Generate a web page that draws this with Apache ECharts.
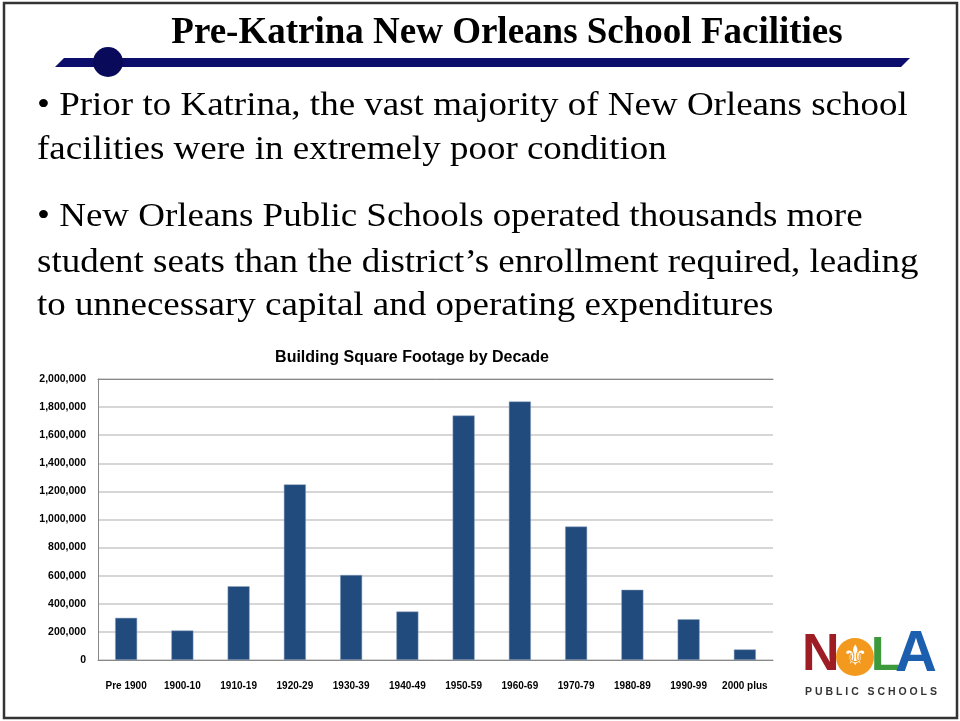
<!DOCTYPE html>
<html>
<head>
<meta charset="utf-8">
<script src="https://cdn.jsdelivr.net/npm/echarts@6/dist/echarts.min.js"></script>
<style>
  html, body { margin: 0; padding: 0; background: #fff; }
  #chart { width: 960px; height: 721px; }
</style>
</head>
<body>
<div id="chart"></div>
<script>
// 数据：按年代统计的校舍面积（平方英尺）
const decades = ['Pre 1900', '1900-10', '1910-19', '1920-29', '1930-39', '1940-49',
  '1950-59', '1960-69', '1970-79', '1980-89', '1990-99', '2000 plus'];
const squareFootage = [300000, 210000, 525000, 1250000, 605000, 345000,
  1740000, 1840000, 950000, 500000, 290000, 75000];
const yTicks = { min: 0, max: 2000000, interval: 200000 };

const slideTitle = 'Pre-Katrina New Orleans School Facilities';
const bulletLines = [
  ['• Prior to Katrina, the vast majority of New Orleans school', 106],
  ['facilities were in extremely poor condition', 150.5],
  ['• New Orleans Public Schools operated thousands more', 217.5],
  ['student seats than the district\u2019s enrollment required, leading', 263],
  ['to unnecessary capital and operating expenditures', 306],
];

const SERIF = '"Liberation Serif", "Times New Roman", serif';
const SANS = '"Liberation Sans", Arial, sans-serif';
const barColor = '#214a7d';

const chart = echarts.init(document.getElementById('chart'));

function logoGraphic() {
  // NOLA 标志：用文字和圆近似
  return [
    { type: 'text', x: 802, y: 682, style: { text: 'N', font: `bold 52px ${SANS}`, fill: '#9e1c24', textVerticalAlign: 'bottom' } },
    { type: 'circle', shape: { cx: 855, cy: 657, r: 19 }, style: { fill: '#f39a1e' } },
    { type: 'text', x: 855, y: 658, style: { text: '\u269C', font: `28px "DejaVu Sans"`, fill: '#fff', textAlign: 'center', textVerticalAlign: 'middle' } },
    { type: 'text', x: 871, y: 681, style: { text: 'L', font: `bold 48px ${SANS}`, fill: '#3c9a3a', textVerticalAlign: 'bottom' } },
    { type: 'text', x: 895, y: 684, style: { text: 'A', font: `bold 58px ${SANS}`, fill: '#1b5fae', textVerticalAlign: 'bottom' } },
    { type: 'text', x: 871, y: 692, style: { text: 'P U B L I C   S C H O O L S', font: `bold 10.5px ${SANS}`, fill: '#333', textAlign: 'center', textVerticalAlign: 'middle' } },
  ];
}

function getOption() {
  return {
    animation: false,
    backgroundColor: '#fff',
    title: {
      text: 'Building Square Footage by Decade',
      left: 407,
      top: 345,
      textAlign: 'center',
      textStyle: { fontFamily: SANS, fontSize: 16, fontWeight: 'bold', color: '#000' },
    },
    grid: { left: 98, right: 187, top: 379, bottom: 61 },
    xAxis: [
      {
        type: 'category',
        data: decades,
        axisTick: { show: false },
        axisLine: { lineStyle: { color: '#888', width: 1 } },
        axisLabel: { fontFamily: SANS, fontSize: 10, fontWeight: 'bold', color: '#000', margin: 21, interval: 0 },
      },
      {
        type: 'category',
        position: 'top',
        data: decades,
        axisTick: { show: false },
        axisLabel: { show: false },
        axisLine: { lineStyle: { color: '#888', width: 1 } },
      },
    ],
    yAxis: {
      type: 'value',
      min: yTicks.min,
      max: yTicks.max,
      interval: yTicks.interval,
      axisLine: { show: true, lineStyle: { color: '#888', width: 1 } },
      axisTick: { show: false },
      axisLabel: {
        fontFamily: SANS, fontSize: 10.5, fontWeight: 'bold', color: '#000', margin: 12,
        formatter: v => v.toLocaleString('en-US'),
      },
      splitLine: { lineStyle: { color: '#c8c8c8', width: 1.5 } },
    },
    series: [{
      type: 'bar',
      data: squareFootage,
      barWidth: 22,
      itemStyle: { color: barColor, borderColor: '#8ea4c0', borderWidth: 0.5 },
    }],
    graphic: [
      { type: 'rect', shape: { x: 4, y: 3, width: 953, height: 715 }, style: { fill: 'none', stroke: '#333', lineWidth: 2.5 } },
      { type: 'text', x: 507, y: 33, style: { text: slideTitle, font: `bold 37px ${SERIF}`, fill: '#000', textAlign: 'center', textVerticalAlign: 'middle' } },
      { type: 'polygon', shape: { points: [[55, 67], [64, 58], [910, 58], [901, 67]] }, style: { fill: '#0d0d6b' } },
      { type: 'circle', shape: { cx: 108, cy: 62, r: 15 }, style: { fill: '#0a0a5a' } },
      // 原图正文字形略扁，横向拉伸一点
      ...bulletLines.map(([text, y]) => ({
        type: 'text', x: 37, y, scaleX: 1.088,
        style: { text, font: `34px ${SERIF}`, fill: '#000', textVerticalAlign: 'middle' },
      })),
      ...logoGraphic(),
    ],
  };
}

chart.setOption(getOption());
</script>
</body>
</html>
